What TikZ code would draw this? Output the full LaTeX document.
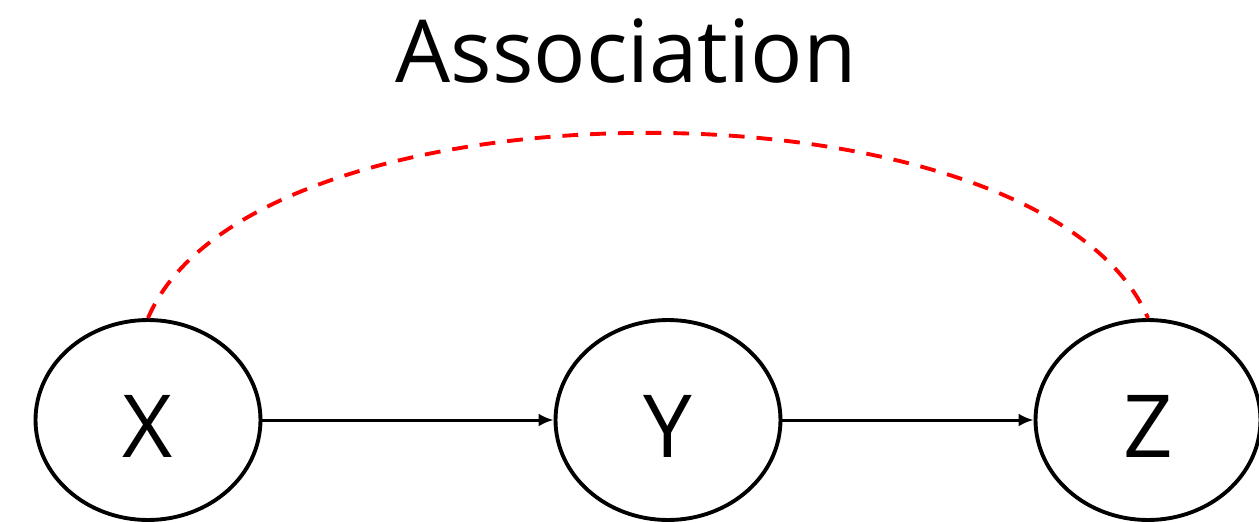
\documentclass[tikz,border=0pt]{standalone}
\usepackage{fontspec}
\setmainfont{Open Sans}
\usetikzlibrary{arrows.meta, shapes.geometric}

\begin{document}
\begin{tikzpicture}[x=0.02cm, y=-0.02cm,
        var/.style={ellipse, draw, line width=2.2pt,
                    minimum width=4.5cm, minimum height=4cm,
                    text height=1.48cm, text depth=0pt, inner sep=0pt,
                    font=\fontsize{49.5}{59}\selectfont},
        arr/.style={-{Latex[length=3mm, width=2.6mm]}, line width=1.7pt},
        assoc/.style={draw=red, line width=2.2pt, dash pattern=on 9pt off 6.8pt}
      ]
      \useasboundingbox (0,0) rectangle (1259,522);
      \node[anchor=base, font=\fontsize{49.5}{59}\selectfont] (title) at (626,82) {Association};
      \node[var] (x) at (148,420) {X};
      \node[var] (y) at (668,420) {Y};
      \node[var] (z) at (1148,420) {Z};

      \draw[arr] (x) -- (y);
      \draw[arr] (y) -- (z);
      \draw[assoc] (x.north) .. controls +(105,-247) and +(-105,-247) .. (z.north);
    \end{tikzpicture}
\end{document}
